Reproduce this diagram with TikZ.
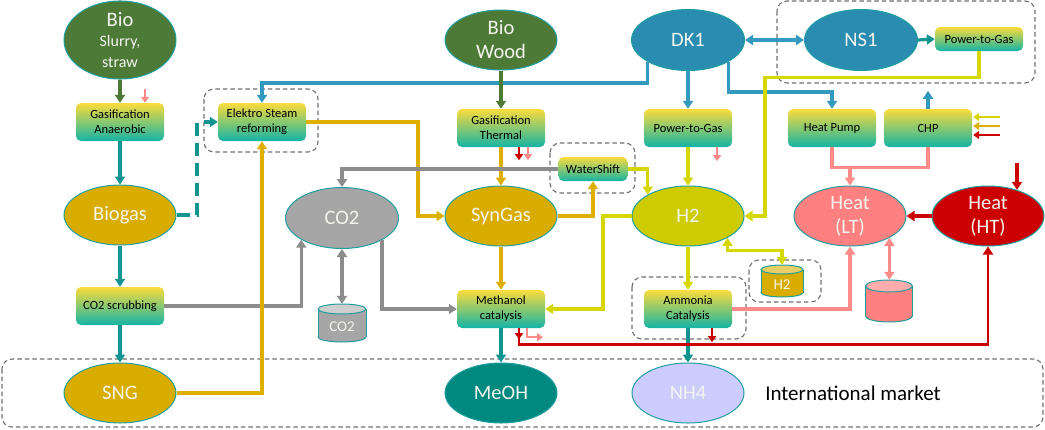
\documentclass[tikz,border=0pt]{standalone}
\usepackage{fontspec}
\setmainfont{Carlito}
\usetikzlibrary{arrows.meta,shapes.geometric,calc}
\definecolor{biogreen}{HTML}{4E7A38}
\definecolor{gold}{HTML}{D9AD00}
\definecolor{co2gray}{HTML}{A6A6A6}
\definecolor{dkblue}{HTML}{2A8CB0}
\definecolor{h2yel}{HTML}{CCCC00}
\definecolor{heatlt}{HTML}{FF8080}
\definecolor{heatht}{HTML}{CC0000}
\definecolor{meohc}{HTML}{00897F}
\definecolor{nh4c}{HTML}{CCCCFF}
\definecolor{ellline}{HTML}{1F9EA0}
\definecolor{txtw}{HTML}{F4F4EE}
\definecolor{boxtop}{HTML}{FADC3C}
\definecolor{boxbot}{HTML}{14B4A6}
\definecolor{grpgray}{HTML}{707070}
\definecolor{cgreen}{HTML}{4E7A38}
\definecolor{cteal}{HTML}{129590}
\definecolor{cblue}{HTML}{3399BF}
\definecolor{cgold}{HTML}{DDB000}
\definecolor{cgray}{HTML}{8C8C8C}
\definecolor{cyg}{HTML}{D6D600}
\definecolor{cpink}{HTML}{FF8A8A}
\definecolor{cred}{HTML}{CC0000}
\tikzset{
 ell/.style={ellipse, draw=ellline, line width=1pt, minimum width=112pt, minimum height=60pt, inner sep=0pt, text=txtw, align=center, font=\fontsize{20.5}{24}\selectfont},
 pbox/.style={rectangle, rounded corners=5pt, top color=boxtop, bottom color=boxbot, minimum width=88pt, minimum height=38pt, inner sep=1pt, align=center, font=\fontsize{12.5}{15}\selectfont, text=black},
 grp/.style={draw=grpgray, line width=1.1pt, dash pattern=on 4.5pt off 3pt, rounded corners=10pt},
 link/.style={line width=3.2pt, -{Triangle[length=8pt,width=10pt]}},
 dlink/.style={line width=3.2pt, {Triangle[length=8pt,width=10pt]}-{Triangle[length=8pt,width=10pt]}},
 plain/.style={line width=3.2pt},
 tinyarr/.style={line width=2.5pt, -{Triangle[length=6pt,width=8pt]}},
}
\newcommand\mycyl[9]{%
  \filldraw[fill=#7, draw=ellline, line width=1pt] (#2,{#3+#5/2-#6}) ellipse [x radius={#4/2}, y radius=#6];
  \fill[#7] ({#2-#4/2},{#3-#5/2+#6}) rectangle ({#2+#4/2},{#3+#5/2-#6});
  \draw[ellline, line width=1pt] ({#2-#4/2},{#3-#5/2+#6}) -- ({#2-#4/2},{#3+#5/2-#6}) ({#2+#4/2},{#3-#5/2+#6}) -- ({#2+#4/2},{#3+#5/2-#6});
  \filldraw[fill=#8, draw=ellline, line width=1pt] (#2,{#3-#5/2+#6}) ellipse [x radius={#4/2}, y radius=#6];
  \node[minimum width=#4pt, minimum height=#5pt, inner sep=0pt] (#1) at (#2,#3) {};
  \node[text=txtw, font=\fontsize{15}{17}\selectfont] (#1t) at (#2,{#3+#6/2+1}) {#9};
}
\begin{document}
\begin{tikzpicture}[x=1pt,y=-1pt]
\useasboundingbox (0,0) rectangle (1045,429);
% groups
\draw[grp] (204,89) rectangle (318,152);
\draw[grp] (550,143) rectangle (635,193);
\draw[grp] (777,1) rectangle (1035,83);
\draw[grp] (632,277) rectangle (746,339);
\draw[grp] (749,260) rectangle (821,302);
\draw[grp] (2,359) rectangle (1043,427);
% nodes
\node[ell, fill=biogreen] (bioS) at (120,40) {Bio\\[-4pt]{\fontsize{16}{17}\selectfont Slurry,}\\[-3pt]{\fontsize{16}{17}\selectfont straw}};
\node[pbox] (gasA) at (120,122) {Gasification\\Anaerobic};
\node[ell, fill=gold] (biogas) at (120,215) {Biogas};
\node[pbox] (scrub) at (120,306) {CO2 scrubbing};
\node[ell, fill=gold] (sng) at (120,393) {SNG};
\node[pbox] (elek) at (262,122) {Elektro Steam\\reforming};
\node[ell, fill=biogreen] (biow) at (501,40) {Bio\\Wood};
\node[pbox] (gasT) at (501,128) {Gasification\\Thermal};
\node[pbox, minimum width=69pt, minimum height=24pt] (water) at (593,169) {WaterShift};
\node[ell, fill=gold] (syn) at (501,216) {SynGas};
\node[ell, fill=co2gray, minimum width=113pt, minimum height=61pt] (co2) at (342,218) {CO2};
\node[pbox] (meth) at (501,309) {Methanol\\catalysis};
\node[ell, fill=meohc] (meoh) at (501,393) {MeOH};
\node[ell, fill=dkblue, minimum width=113pt, minimum height=61pt] (dk1) at (688,40) {DK1};
\node[ell, fill=dkblue, minimum width=113pt, minimum height=61pt] (ns1) at (861,40) {NS1};
\node[pbox, minimum height=24pt] (p2gN) at (979,39) {Power-to-Gas};
\node[pbox] (p2gD) at (688,128) {Power-to-Gas};
\node[pbox] (hp) at (832,128) {Heat Pump};
\node[pbox] (chp) at (928,128) {CHP};
\node[ell, fill=h2yel] (h2) at (688,216) {H2};
\node[ell, fill=heatlt] (heatLT) at (850,216) {Heat\\(LT)};
\node[ell, fill=heatht] (heatHT) at (988,216) {Heat\\(HT)};
\node[pbox] (amm) at (688,309) {Ammonia\\Catalysis};
\node[ell, fill=nh4c] (nh4) at (688,393) {NH4};
\node[font=\fontsize{21}{24}\selectfont] (intl) at (853,393) {International market};
\mycyl{co2c}{342}{323}{48}{38}{5}{co2gray}{co2gray!55!white}{CO2}
\mycyl{h2c}{782}{281}{42}{32}{4.5}{gold}{gold!60!white}{H2}
\mycyl{hstore}{889}{301}{47}{42}{6}{heatlt}{heatlt!65!white}{}
% connectors
\draw[link, cgreen] (bioS) -- (gasA);
\draw[link, cteal] (gasA) -- (biogas);
\draw[link, cteal] (biogas) -- (scrub);
\draw[link, cteal] (scrub) -- (sng);
\draw[link, cteal, dash pattern=on 13pt off 7pt] (biogas.east) -- (197,215) |- (elek.west);
\draw[tinyarr, cpink] ($(gasA.north)+(25,-14)$) -- ++(0,14);
\draw[link, cgray] (scrub.east) -| (co2.208);
\draw[link, cgold] (sng.east) -| (elek.south);
\draw[link, cgold] (elek.east) -- (418,122) |- (syn.west);
\draw[link, cblue] (dk1.south west) -- ++(0,21) -| (elek.north);
\draw[link, cblue] (dk1) -- (p2gD);
\draw[link, cblue] (dk1.south east) -- ++(0,30) -| (hp.north);
\draw[link, cblue] (chp.north) -- ++(0,-18);
\draw[dlink, cblue] (dk1.east) -- (ns1.west);
\draw[link, cteal] (ns1.east) -- (p2gN.west);
\draw[link, cyg] (p2gN.south) -- ++(0,26) -| (765,216) -- (h2.east);
\draw[link, cyg] (p2gD) -- (h2);
\draw[tinyarr, cpink] ($(p2gD.south)+(29,0)$) -- ++(0,14);
\draw[plain, cpink] (hp.south) -- ++(0,20) -| (chp.south);
\draw[link, cpink] (heatLT.north) ++(0,-19) -- (heatLT.north);
\draw[tinyarr, cyg] ($(chp.east)+(28,-11)$) -- ++(-27,0);
\draw[tinyarr, cgold] ($(chp.east)+(28,-2)$) -- ++(-27,0);
\draw[tinyarr, cred] ($(chp.east)+(28,7)$) -- ++(-27,0);
\draw[link, cred] (heatHT.west) -- (heatLT.east);
\draw[link, cred] (heatHT.42 |- 0,163) -- (heatHT.42);
\draw[link, cgreen] (biow) -- (gasT);
\draw[link, cgold] (gasT) -- (syn);
\draw[tinyarr, cred] ($(gasT.south)+(18,0)$) -- ++(0,13);
\draw[tinyarr, cpink] ($(gasT.south)+(27,0)$) -- ++(0,13);
\draw[link, cgold] (syn.east) -| (water.south);
\draw[link, cgray] (water.west) -| (co2.north);
\draw[link, cyg] (water.east) -| (h2.152);
\draw[link, cyg] (h2.west) -- (603,216) |- (meth.east);
\draw[link, cgold] (syn) -- (meth);
\draw[link, cgray] (co2.331) |- (meth.west);
\draw[dlink, cgray] (co2) -- (co2c);
\draw[link, cteal] (meth) -- (meoh);
\draw[link, cyg] (h2) -- (amm);
\draw[dlink, cyg] (h2.331) -- ++(0,13) -| (h2c.north);
\draw[link, cteal] (amm) -- (nh4);
\draw[link, cpink] (amm.east) -| (heatLT.south);
\draw[dlink, cpink] (heatLT.331) -- (heatLT.331 |- hstore.north);
\draw[line width=2.6pt, cred, -{Triangle[length=8pt,width=10pt]}] ($(meth.south)+(18,0)$) -- ++(0,16) -| (heatHT.south);
\draw[tinyarr, cred] ($(meth.south)+(18,0)$) -- ++(0,11);
\draw[tinyarr, cred] ($(amm.south)+(24,0)$) -- ++(0,14);
\draw[tinyarr, cpink] ($(meth.south)+(26,0)$) -- ++(0,9) -- ++(16,0);
\end{tikzpicture}
\end{document}
